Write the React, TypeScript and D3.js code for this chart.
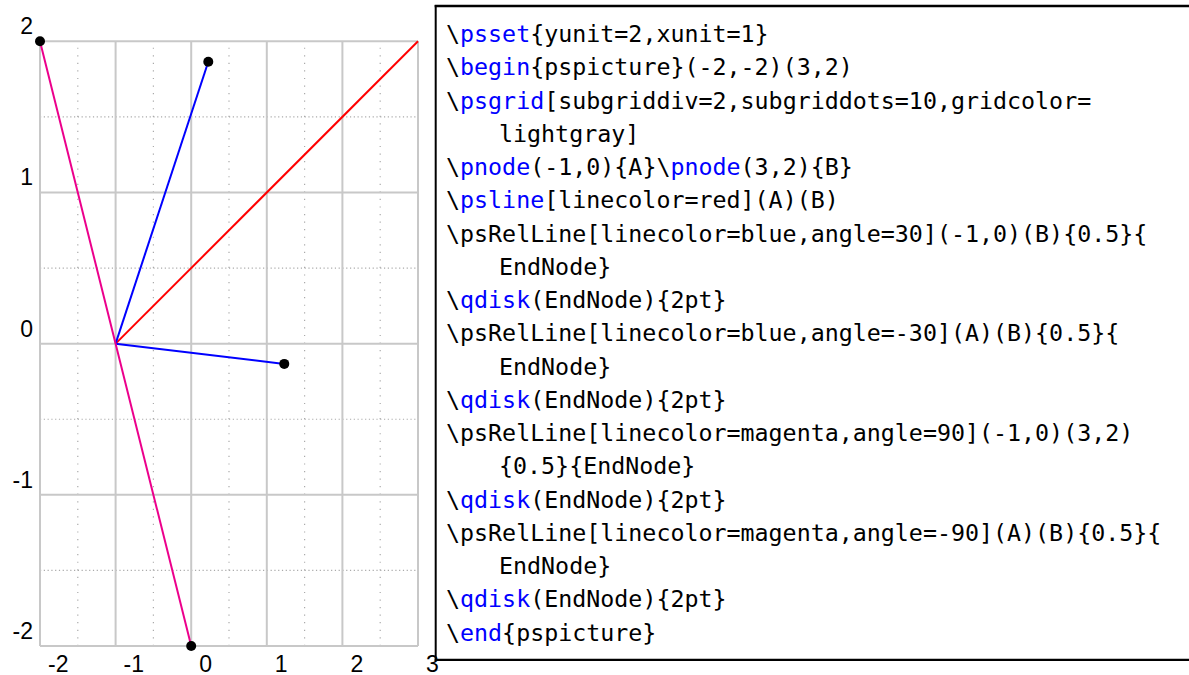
import React from "react";
import * as d3 from "d3";

const xTicks = [-2, -1, 0, 1, 2, 3];
const yTicks = [-2, -1, 0, 1, 2];
const xMinor = [-1.5, -0.5, 0.5, 1.5, 2.5];
const yMinor = [-1.5, -0.5, 0.5, 1.5];

const redLine = [[-1, 0], [3, 2]];
const blueLines = [
  [[-1, 0], [0.226, 1.865]],
  [[-1, 0], [1.231, -0.134]],
];
const magentaLine = [[-2, 2], [0, -2]];
const endNodes = [[0.226, 1.865], [1.231, -0.134], [-2, 2], [0, -2]];

// code lines: [isContinuation, segments]; segment [text, isBlue]
const codeLines: [boolean, [string, boolean][]][] = [
  [false, [["\\", false], ["psset", true], ["{yunit=2,xunit=1}", false]]],
  [false, [["\\", false], ["begin", true], ["{pspicture}(-2,-2)(3,2)", false]]],
  [false, [["\\", false], ["psgrid", true], ["[subgriddiv=2,subgriddots=10,gridcolor=", false]]],
  [true, [["lightgray]", false]]],
  [false, [["\\", false], ["pnode", true], ["(-1,0){A}\\", false], ["pnode", true], ["(3,2){B}", false]]],
  [false, [["\\", false], ["psline", true], ["[linecolor=red](A)(B)", false]]],
  [false, [["\\psRelLine[linecolor=blue,angle=30](-1,0)(B){0.5}{", false]]],
  [true, [["EndNode}", false]]],
  [false, [["\\", false], ["qdisk", true], ["(EndNode){2pt}", false]]],
  [false, [["\\psRelLine[linecolor=blue,angle=-30](A)(B){0.5}{", false]]],
  [true, [["EndNode}", false]]],
  [false, [["\\", false], ["qdisk", true], ["(EndNode){2pt}", false]]],
  [false, [["\\psRelLine[linecolor=magenta,angle=90](-1,0)(3,2)", false]]],
  [true, [["{0.5}{EndNode}", false]]],
  [false, [["\\", false], ["qdisk", true], ["(EndNode){2pt}", false]]],
  [false, [["\\psRelLine[linecolor=magenta,angle=-90](A)(B){0.5}{", false]]],
  [true, [["EndNode}", false]]],
  [false, [["\\", false], ["qdisk", true], ["(EndNode){2pt}", false]]],
  [false, [["\\", false], ["end", true], ["{pspicture}", false]]],
];

export default function App() {
  const x = d3.scaleLinear().domain([-2, 3]).range([40, 418]);
  const y = d3.scaleLinear().domain([-2, 2]).range([646, 41.3]);
  const line = d3.line<number[]>().x((d) => x(d[0])).y((d) => y(d[1]));
  const grid = "#c8c8c8";
  const minorDots = "#aaaaaa";
  const xDotSpacing = (x(1) - x(0)) / 20;
  const yDotSpacing = (y(0) - y(1)) / 20;

  return (
    <svg
      width={1189}
      height={675}
      style={{ position: "absolute", left: 0, top: 0, background: "#fff" }}
    >
      <rect x={0} y={0} width={1189} height={675} fill="#fff" />
      {/* minor dotted grid */}
      {xMinor.map((v) => (
        <line
          key={"xm" + v}
          x1={x(v)}
          x2={x(v)}
          y1={y(-2)}
          y2={y(2)}
          stroke={minorDots}
          strokeWidth={1.2}
          strokeDasharray={`1.2 ${yDotSpacing - 1.2}`}
        />
      ))}
      {yMinor.map((v) => (
        <line
          key={"ym" + v}
          x1={x(-2)}
          x2={x(3)}
          y1={y(v)}
          y2={y(v)}
          stroke={minorDots}
          strokeWidth={1.2}
          strokeDasharray={`1.2 ${xDotSpacing - 1.2}`}
        />
      ))}
      {/* major grid */}
      {xTicks.map((v) => (
        <line key={"xg" + v} x1={x(v)} x2={x(v)} y1={y(-2)} y2={y(2)} stroke={grid} strokeWidth={2} />
      ))}
      {yTicks.map((v) => (
        <line key={"yg" + v} x1={x(-2)} x2={x(3)} y1={y(v)} y2={y(v)} stroke={grid} strokeWidth={2} />
      ))}
      {/* tick labels */}
      {xTicks.map((v) => (
        <text
          key={"xl" + v}
          x={x(v) + 8}
          y={672}
          fontFamily="Liberation Sans, Arial, sans-serif"
          fontSize={23}
          fill="#000"
        >
          {v}
        </text>
      ))}
      {yTicks.map((v) => (
        <text
          key={"yl" + v}
          x={33}
          y={y(v) - 7}
          textAnchor="end"
          fontFamily="Liberation Sans, Arial, sans-serif"
          fontSize={23}
          fill="#000"
        >
          {v}
        </text>
      ))}
      {/* lines */}
      <path d={line(redLine as number[][]) || ""} stroke="#ff0000" strokeWidth={2} fill="none" />
      {blueLines.map((l, i) => (
        <path key={"b" + i} d={line(l as number[][]) || ""} stroke="#0000ff" strokeWidth={2} fill="none" />
      ))}
      <path d={line(magentaLine as number[][]) || ""} stroke="#ec008c" strokeWidth={2} fill="none" />
      {endNodes.map((p, i) => (
        <circle key={"n" + i} cx={x(p[0])} cy={y(p[1])} r={5} fill="#000" />
      ))}
      {/* code box */}
      <line x1={435.7} x2={435.7} y1={5} y2={661} stroke="#000" strokeWidth={2} />
      <line x1={434.7} x2={1189} y1={6} y2={6} stroke="#000" strokeWidth={2.7} />
      <line x1={434.7} x2={1189} y1={659.8} y2={659.8} stroke="#000" strokeWidth={2.3} />
      {codeLines.map(([indent, segs], i) => (
        <text
          key={"c" + i}
          x={indent ? 499 : 446}
          y={42 + 33.25 * i}
          fontFamily="DejaVu Sans Mono, monospace"
          fontSize={23.3}
          fill="#000"
          xmlSpace="preserve"
        >
          {segs.map(([t, blue], j) => (
            <tspan key={j} fill={blue ? "#0000ff" : "#000"}>
              {t}
            </tspan>
          ))}
        </text>
      ))}
    </svg>
  );
}
